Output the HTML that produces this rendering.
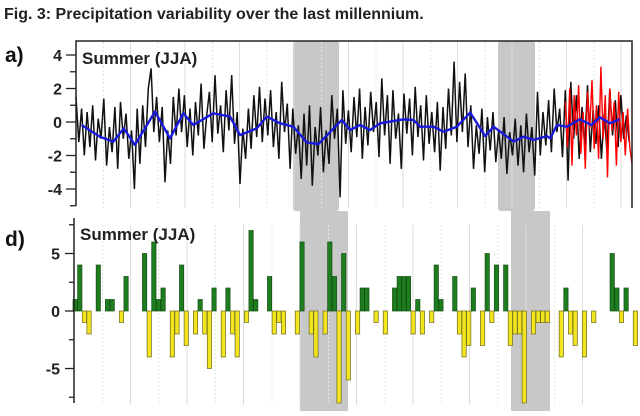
<!DOCTYPE html>
<html><head><meta charset="utf-8"><style>
body{margin:0;background:#fff;width:640px;height:411px;overflow:hidden;font-family:"Liberation Sans",sans-serif}
svg text{font-family:"Liberation Sans",sans-serif}
</style></head><body>
<svg id="chart" width="640" height="411" viewBox="0 0 640 411">
<text x="4" y="19" font-size="16" font-weight="bold" fill="#222">Fig. 3: Precipitation variability over the last millennium.</text>
<text x="5" y="62" font-size="21" font-weight="bold" fill="#111">a)</text>
<text x="5" y="246" font-size="21" font-weight="bold" fill="#111">d)</text>
<g id="topPanel"></g>
<g id="botPanel"></g>
</svg>
<script>
// ---- Panel a data ----
const blackStart = 0, blackStep = 5;
const blackValues = [1.5,-1.2,0.8,-2.0,0.6,-1.5,1.0,-2.3,0.2,-1.0,
1.4,-2.6,-0.3,-1.8,0.9,-2.8,1.2,-1.0,0.5,-2.2,
-0.5,-4.0,0.8,-2.5,1.0,-1.5,2.0,3.2,-0.6,1.5,
-1.2,0.9,-3.6,-0.5,-2.5,1.5,-0.8,2.0,-0.6,1.6,
-1.5,0.8,-2.0,1.2,-0.8,2.3,-1.6,0.4,1.8,-1.2,
2.8,-0.7,1.0,-1.8,1.9,-0.5,2.8,-1.3,0.6,-3.7,
-0.4,-2.2,0.8,-1.6,1.6,-0.9,2.1,-1.2,1.4,-0.8,
1.9,-1.5,0.6,-2.2,2.4,-0.6,1.1,-2.8,0.8,-1.9,
-0.2,-3.4,0.5,-2.6,1.0,-3.8,-0.3,-2.0,0.9,-3.0,
-0.5,-2.5,1.6,-1.0,0.8,-4.5,1.9,-1.3,0.7,-1.8,
1.5,-0.9,2.0,-2.2,0.9,-1.4,1.8,-0.6,1.2,-2.1,
2.6,-0.8,1.6,-2.5,1.9,-1.0,0.5,-2.8,1.7,-0.7,
1.4,-2.0,2.1,-0.9,1.0,-2.3,1.6,-1.3,0.6,-1.8,
1.2,-2.9,0.9,-1.6,2.0,-0.8,3.6,-1.2,2.4,-0.6,
2.9,-1.5,1.0,-2.8,-0.2,-1.9,0.8,-3.0,0.3,-1.7,
0.6,-2.4,-0.5,-2.2,0.3,-3.1,-0.6,-2.0,0.2,-2.6,
-0.2,-3.0,0.5,-1.8,-0.3,-3.2,1.8,-2.0,0.6,-1.4,
1.3,-1.8,2.0,-0.6,0.8,-2.1,1.9,-3.5,2.4,-1.0,
1.6,-2.2,0.9,-1.5,2.2,-1.8,0.7,-1.3,1.0,-2.2,
0.5,-1.8,2.0,-0.8,1.3,-1.5,1.6,-1.0,0.4,-1.2];
const redStart = 880, redStep = 4;
const redValues = [1.2,-1.5,2.0,-2.6,1.6,-0.8,2.2,-1.9,0.6,-2.8,1.8,-0.4,2.5,-1.6,1.0,-2.2,3.3,-1.0,1.6,-3.3,2.0,-0.5,1.2,-2.6,1.8,-1.2,0.6,-2.0,0.8,-1.5,-2.5];
const blueT = [10,43,67,86,106,142,169,193,211,247,277,295,325,343,367,391,415,436,478,493,511,529,547,589,607,619,643,661,685,709,736,751,787,805,823,847,853,865,883,906,927,942,960,978];
const blueV = [-0.18,-0.88,-1.17,-0.38,-1.37,0.62,-0.98,0.52,-0.18,0.52,0.32,-0.78,-0.38,0.32,-0.08,-0.28,-1.22,-1.32,0.12,-0.48,-0.18,-0.48,-0.08,0.16,0.12,-0.28,-0.28,-0.58,-0.28,0.56,-0.84,-0.28,-1.17,-0.88,-1.07,-0.84,-0.98,-0.18,-0.28,0.16,-0.18,0.28,-0.08,0.16];
const topTicks = [4,2,0,-2,-4];
// ---- Panel d data ----
const barSlots = [0,1,2,3,5,7,8,10,11,15,16,17,18,19,21,22,23,24,26,27,28,29,30,32,33,34,35,37,38,39,42,43,44,45,48,49,51,52,54,55,56,57,58,59,61,62,63,65,67,69,70,71,72,73,74,75,77,78,79,82,83,84,85,86,88,89,90,91,93,94,95,96,97,99,100,101,102,105,106,107,108,110,112,116,117,118,119,121];
const barValues = [1,4,-1,-2,4,1,1,-1,3,5,-4,6,1,2,-4,-2,4,-3,-2,1,-2,-5,2,-4,2,-2,-4,-1,7,1,3,-2,-1,-2,-2,6,-2,-4,-2,6,3,-8,5,-6,-2,2,2,-1,-2,2,3,3,3,-2,1,-2,-1,4,1,3,-2,-4,-3,2,-3,5,-1,4,4,-3,-2,-2,-8,-2,-1,-1,-1,-4,2,-2,-3,-4,-1,5,2,-1,2,-3];
const botTicks = [5,0,-5];

const NS='http://www.w3.org/2000/svg';
function mk(parent,tag,attrs){const e=document.createElementNS(NS,tag);for(const k in attrs)e.setAttribute(k,attrs[k]);parent.appendChild(e);return e;}
const topG=document.getElementById('topPanel'), botG=document.getElementById('botPanel');
const xT=t=>76+t*0.556, yT=v=>122-v*16.75;
const xB=s=>73+s*4.63, yB=v=>311-v*11.5;

// bands
[[293,339,41,211],[498,535,41,211]].forEach((b,i)=>{const r=mk(topG,'rect',{x:b[0],y:b[2],width:b[1]-b[0],height:b[3]-b[2],fill:'#c8c8c8',rx:3});

});
[[300,348,211,411],[511,550,211,411]].forEach((b,i)=>{const r=mk(botG,'rect',{x:b[0],y:b[2],width:b[1]-b[0],height:b[3]-b[2],fill:'#c8c8c8'});

});
// grids
for(let k=0;k<10;k++){const x=130.5+54.5*k;
 const g=mk(topG,'line',{x1:x,x2:x,y1:42,y2:208,stroke:'#dcdcdc','stroke-width':1});
 
 
 const g2=mk(topG,'line',{x1:x-27,x2:x-27,y1:42,y2:208,stroke:'#d6f0d6','stroke-width':1,'stroke-dasharray':'2,2'});
 
 }
for(let k=0;k<9;k++){const x=130.5+56.5*k;
 const g=mk(botG,'line',{x1:x,x2:x,y1:225,y2:405,stroke:'#dcdcdc','stroke-width':1});
 
 
 const g2=mk(botG,'line',{x1:x-28,x2:x-28,y1:225,y2:405,stroke:'#d6f0d6','stroke-width':1,'stroke-dasharray':'2,2'});
 
 }
// black series
let d=blackValues.map((v,i)=>(i?'L':'M')+xT(blackStart+i*blackStep).toFixed(1)+','+yT(v).toFixed(1)).join('');
let p=mk(topG,'path',{d:d,fill:'none',stroke:'#111','stroke-width':1.5});


d=redValues.map((v,i)=>(i?'L':'M')+xT(redStart+i*redStep).toFixed(1)+','+yT(v).toFixed(1)).join('');
p=mk(topG,'path',{d:d,fill:'none',stroke:'#f00','stroke-width':1.4});


d=blueV.map((v,i)=>(i?'L':'M')+xT(blueT[i]).toFixed(1)+','+yT(v).toFixed(1)).join('');
p=mk(topG,'path',{d:d,fill:'none',stroke:'#1a1adc','stroke-width':2.4,'stroke-linejoin':'round'});


// top axes
p=mk(topG,'path',{d:'M76,206V41H632V208',fill:'none',stroke:'#222','stroke-width':1.5});


for(let v=-5;v<=5;v++){const y=yT(v);if(y<41||y>207)continue;
 const major=v%2===0;
 const t=mk(topG,'line',{x1:major?66:70,x2:76,y1:y,y2:y,stroke:'#222','stroke-width':1.3});
 
 }
topTicks.forEach(v=>{const t=mk(topG,'text',{x:62,y:yT(v)+6,'font-size':16,'font-weight':'bold','text-anchor':'end',fill:'#222'});t.textContent=v;
 
 });
let tt=mk(topG,'text',{x:82,y:64,'font-size':17,'font-weight':'bold',fill:'#222'});tt.textContent='Summer (JJA)';


// bars
barValues.forEach((v,i)=>{const x=xB(barSlots[i]);const y0=yB(0),y1=yB(v);
 const r=mk(botG,'rect',{x:x,y:Math.min(y0,y1),width:4.3,height:Math.abs(y1-y0),fill:v>0?'#1e7d1e':'#f2e41e',stroke:v>0?'#124d12':'#6b6b20','stroke-width':0.7});
 
 });
// bottom axis
p=mk(botG,'line',{x1:74,x2:74,y1:218,y2:403,stroke:'#222','stroke-width':1.5});


[7.5,5,2.5,0,-2.5,-5,-7.5].forEach(v=>{const major=v%5===0;
 const t=mk(botG,'line',{x1:major?65:69,x2:74,y1:yB(v),y2:yB(v),stroke:'#222','stroke-width':1.3});
 
 });
botTicks.forEach(v=>{const t=mk(botG,'text',{x:60,y:yB(v)+6,'font-size':16,'font-weight':'bold','text-anchor':'end',fill:'#222'});t.textContent=v;
 
 });
tt=mk(botG,'text',{x:80,y:240,'font-size':17,'font-weight':'bold',fill:'#222'});tt.textContent='Summer (JJA)';


</script>
</body></html>
